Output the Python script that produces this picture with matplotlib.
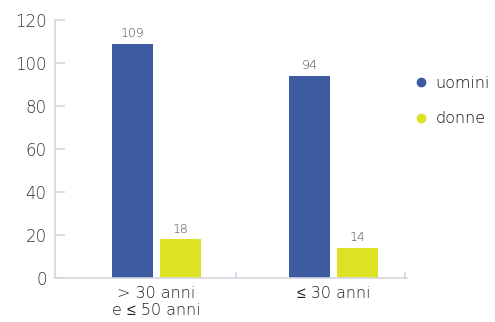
import numpy as np
import matplotlib.pyplot as plt

categories = ['> 30 anni\ne ≤ 50 anni', '≤ 30 anni']
uomini = [109, 94]
donne = [18, 14]
series_names = ['uomini', 'donne']
yticks = [0, 20, 40, 60, 80, 100, 120]

BLUE = '#3d5ba1'
YELLOW = '#dde324'
GRID = '#d3d8df'

plt.rcParams['font.family'] = ['DejaVu Sans', 'Noto Sans', 'Liberation Sans']
plt.rcParams['font.weight'] = 'light'

fig = plt.figure(figsize=(4.95, 3.22), dpi=100)
ax = fig.add_axes([0.111, 0.1366, 0.711, 0.8014])

x = np.arange(len(categories))
w = 0.231
off = 0.135
b1 = ax.bar(x - off, uomini, w, color=BLUE, label=series_names[0])
b2 = ax.bar(x + off, donne, w, color=YELLOW, label=series_names[1])

for bars, vals in [(b1, uomini), (b2, donne)]:
    for r, v in zip(bars, vals):
        ax.text(r.get_x() + r.get_width() / 2, v + 2.2, str(v),
                ha='center', va='bottom', fontsize=9, color='#444444')

ax.set_xlim(-0.572, 1.411)
ax.set_ylim(0, 120)
ax.set_yticks(yticks)
ax.set_xticks(x)
ax.set_xticklabels(categories, fontsize=11.5, color='#222222', linespacing=1.1)
ax.set_xticks([0.448, 1.40], minor=True)

for s in ['top', 'right']:
    ax.spines[s].set_visible(False)
for s in ['left', 'bottom']:
    ax.spines[s].set_color(GRID)
    ax.spines[s].set_linewidth(1.2)

ax.tick_params(axis='y', direction='in', length=7, color=GRID, width=1.2,
               labelsize=12, labelcolor='#333333', pad=6)
ax.tick_params(axis='x', which='major', length=0, pad=6)
ax.tick_params(axis='x', which='minor', direction='in', length=4, color=GRID, width=1.2)

# legend
fig.legend(handles=[plt.Line2D([], [], marker='o', ls='', color=BLUE, markersize=6),
                    plt.Line2D([], [], marker='o', ls='', color=YELLOW, markersize=6)],
           labels=series_names, loc='upper left', bbox_to_anchor=(0.838, 0.765),
           frameon=False, fontsize=11.5, handlelength=0.8, handletextpad=0.5,
           labelspacing=1.3, borderpad=0, borderaxespad=0,
           labelcolor='#111111')

fig.savefig('out.png', dpi=100)
